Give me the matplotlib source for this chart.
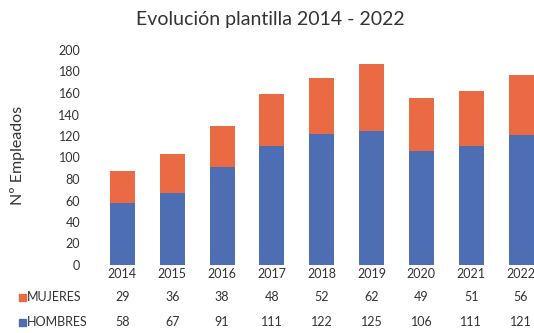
import matplotlib
matplotlib.use("Agg")
import matplotlib.pyplot as plt
import numpy as np
from matplotlib.patches import Rectangle

years = ["2014", "2015", "2016", "2017", "2018", "2019", "2020", "2021", "2022"]
mujeres = [29, 36, 38, 48, 52, 62, 49, 51, 56]
hombres = [58, 67, 91, 111, 122, 125, 106, 111, 121]
yticks = [0, 20, 40, 60, 80, 100, 120, 140, 160, 180, 200]

c_muj = "#E96A43"
c_hom = "#4D6EB3"
txt = "#333333"
font = "Lato"

W, H = 534, 333
fig = plt.figure(figsize=(W / 100, H / 100), dpi=100)
ax = fig.add_axes([90 / W, (H - 265) / H, (W - 90) / W, 215 / H])

x = np.arange(len(years))
ax.bar(x, hombres, width=0.5, color=c_hom, zorder=2)
ax.bar(x, mujeres, width=0.5, bottom=hombres, color=c_muj, zorder=2)

ax.set_ylim(0, 200)
ax.set_xlim(-0.65, 8.26)
ax.set_yticks(yticks)
ax.set_yticklabels([str(t) for t in yticks], fontsize=9, family=font, color=txt)
ax.tick_params(axis="y", length=0, pad=7)
ax.set_xticks([])
for s in ax.spines.values():
    s.set_visible(False)

# category labels and data table under the bars
for i, yr in enumerate(years):
    ax.text(i, -0.042, yr, transform=ax.get_xaxis_transform(), ha="center", va="center",
            fontsize=9, family=font, color=txt)
    ax.text(i, -0.149, str(mujeres[i]), transform=ax.get_xaxis_transform(), ha="center",
            va="center", fontsize=9, family=font, color=txt)
    ax.text(i, -0.265, str(hombres[i]), transform=ax.get_xaxis_transform(), ha="center",
            va="center", fontsize=9, family=font, color=txt)

for yy, lab, col in [(297, "MUJERES", c_muj), (322, "HOMBRES", c_hom)]:
    fig.patches.append(Rectangle((19 / W, (H - yy - 3.5) / H), 7 / W, 7 / H,
                                 transform=fig.transFigure, color=col))
    fig.text(27 / W, (H - yy) / H, lab, ha="left", va="center", fontsize=9,
             family=font, color=txt)

fig.text(18 / W, (H - 155) / H, "Nº Empleados", rotation=90, ha="center", va="center",
         fontsize=11.5, family=font, color=txt)
fig.text(270 / W, (H - 20) / H, "Evolución plantilla 2014 - 2022", ha="center", va="center",
         fontsize=14, family=font, color=txt)

fig.savefig("out.png", dpi=100)
